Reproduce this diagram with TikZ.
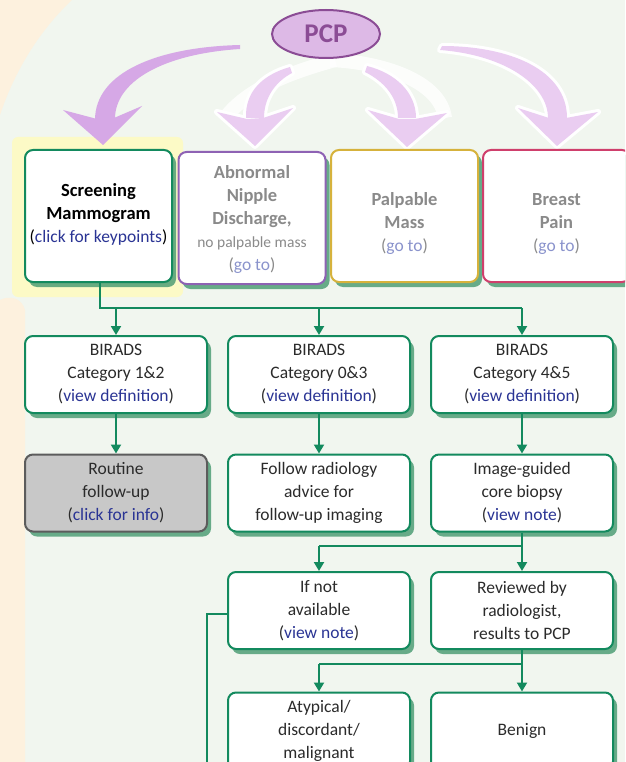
\documentclass[tikz,border=0pt]{standalone}
\usepackage{fontspec}
\setmainfont{Carlito}
\usetikzlibrary{arrows.meta,shadows,shapes.geometric}
\definecolor{bgc}{HTML}{F1F6EF}
\definecolor{peach}{HTML}{FDF1DE}
\definecolor{hilite}{HTML}{FCFAC6}
\definecolor{grn}{HTML}{138A5E}
\definecolor{shd}{HTML}{4F9E76}
\definecolor{linkc}{HTML}{2A3494}
\definecolor{golink}{HTML}{8A93CC}
\definecolor{txt}{HTML}{2B2B2B}
\definecolor{gtxt}{HTML}{8A8A8A}
\definecolor{purb}{HTML}{8E62B4}
\definecolor{yelb}{HTML}{D6B23C}
\definecolor{redb}{HTML}{CF3F6C}
\definecolor{grayf}{HTML}{C8C8C8}
\definecolor{grayb}{HTML}{5C5C5C}
\definecolor{parr}{HTML}{D6A8E6}
\definecolor{parrl}{HTML}{EACDF1}
\definecolor{pcpf}{HTML}{DDB9E6}
\definecolor{pcpb}{HTML}{8B4C95}
\newcommand\lk[1]{({\color{linkc}#1})}
\newcommand\gl[1]{({\color{golink}#1})}
\begin{document}
\begin{tikzpicture}[x=1pt,y=-1pt,
  box/.style={draw=grn, line width=2pt, rounded corners=8pt, fill=white,
    minimum width=182pt, minimum height=77pt, inner sep=1pt, align=center,
    text=txt, font=\fontsize{17.5}{23}\selectfont,
    drop shadow={shadow xshift=4pt, shadow yshift=-5pt, fill=shd, opacity=0.85}},
  topbox/.style={box, minimum width=147pt, minimum height=132pt},
  toptext/.style={align=center, inner sep=0pt, text=gtxt,
    font=\fontsize{18.5}{23}\selectfont\bfseries},
  small/.style={font=\mdseries\fontsize{17.5}{23}\selectfont},
  conn/.style={draw=grn, line width=2pt},
  arr/.style={conn, -{Triangle[width=10pt,length=9pt]}},
  halo/.style={draw=white, line width=6pt, line join=round, fill=white}
]
\useasboundingbox (0,0) rectangle (625,762);
\clip (0,0) rectangle (625,762);
% background
\fill[bgc] (0,0) rectangle (625,762);
\fill[peach] (0,0) -- (72,0) .. controls (40,30) and (15,70) .. (0,115) -- cycle;
\fill[peach] (0,300) .. controls (10,295) and (22,298) .. (25,310) -- (25,762) -- (0,762) -- cycle;
% highlight behind screening box
\fill[hilite, rounded corners=6pt] (12,137) rectangle (183,297);

% white ghost bands
\draw[white, line width=14pt, opacity=0.8] (335,60) .. controls (300,70) and (250,85) .. (225,118);
\draw[white, line width=14pt, opacity=0.8] (330,60) .. controls (380,62) and (440,80) .. (445,118);

% purple arrow 1
\fill[parr] (240,45) .. controls (158,47) and (95,72) .. (95,120)
  -- (115,120) .. controls (114,82) and (162,54) .. (240,49) -- cycle;
\fill[parr] (63,110) -- (97,119) -- (114,118) -- (142,106) -- (103,145) -- cycle;

% purple arrow 2
\path[halo] (290,67) .. controls (262,75) and (245,92) .. (246,118)
  -- (264,118) .. controls (264,98) and (275,82) .. (292,73) -- cycle;
\path[halo] (217,112) -- (247,119) -- (263,118) -- (293,108) -- (255,146) -- cycle;
% purple arrow 3
\path[halo] (367,66) .. controls (395,73) and (416,92) .. (416,118)
  -- (398,118) .. controls (398,98) and (385,82) .. (365,72) -- cycle;
\path[halo] (368,110) -- (399,119) -- (415,119) -- (447,113) -- (407,147) -- cycle;
% purple arrow 4
\path[halo] (442,46) .. controls (510,46) and (567,70) .. (567,118)
  -- (548,118) .. controls (548,85) and (505,55) .. (440,50) -- cycle;
\path[halo] (518,108) -- (549,118) -- (566,118) -- (598,112) -- (557,146) -- cycle;

\fill[parrl] (290,67) .. controls (262,75) and (245,92) .. (246,118)
  -- (264,118) .. controls (264,98) and (275,82) .. (292,73) -- cycle;
\fill[parrl] (217,112) -- (247,119) -- (263,118) -- (293,108) -- (255,146) -- cycle;
\fill[parrl] (367,66) .. controls (395,73) and (416,92) .. (416,118)
  -- (398,118) .. controls (398,98) and (385,82) .. (365,72) -- cycle;
\fill[parrl] (368,110) -- (399,119) -- (415,119) -- (447,113) -- (407,147) -- cycle;
\fill[parrl] (442,46) .. controls (510,46) and (567,70) .. (567,118)
  -- (548,118) .. controls (548,85) and (505,55) .. (440,50) -- cycle;
\fill[parrl] (518,108) -- (549,118) -- (566,118) -- (598,112) -- (557,146) -- cycle;

% PCP
\node[ellipse, draw=pcpb, line width=2pt, fill=pcpf, minimum width=108pt,
  minimum height=48pt, inner sep=0pt, text=pcpb,
  font=\fontsize{27}{30}\selectfont\bfseries] (pcp) at (326,34) {PCP};

% top row boxes
\node[topbox] (scr) at (98.5,216) {};
\node[topbox, draw=purb] (abn) at (252,218) {};
\node[topbox, draw=yelb] (pal) at (404.5,216) {};
\node[topbox, draw=redb] (bp) at (556.5,216) {};
\node[toptext, text=black] (scrt) at ([yshift=2pt]scr.center)
  {Screening\\Mammogram\\{\mdseries\fontsize{17.5}{23}\selectfont\lk{click for keypoints}}};
\node[toptext] (abnt) at ([yshift=-2pt]abn.center)
  {Abnormal\\Nipple\\Discharge,\\{\mdseries\fontsize{15.5}{23}\selectfont no palpable mass}\\{\mdseries\fontsize{17.5}{23}\selectfont\gl{go to}}};
\node[toptext] (palt) at ([yshift=-8pt]pal.center)
  {Palpable\\Mass\\{\mdseries\fontsize{17.5}{23}\selectfont\gl{go to}}};
\node[toptext] (bpt) at ([yshift=-8pt]bp.center)
  {Breast\\Pain\\{\mdseries\fontsize{17.5}{23}\selectfont\gl{go to}}};

% BIRADS row
\node[box] (b1) at (116,374.5) {BIRADS\\Category 1\&2\\\lk{view definition}};
\node[box] (b2) at (319,374.5) {BIRADS\\Category 0\&3\\\lk{view definition}};
\node[box] (b3) at (522,374.5) {BIRADS\\Category 4\&5\\\lk{view definition}};

% third row
\node[box, draw=grayb, fill=grayf] (rt) at (116,493) {Routine\\follow-up\\\lk{click for info}};
\node[box] (fr) at (319,493) {Follow radiology\\advice for\\follow-up imaging};
\node[box] (ig) at (522,493) {Image-guided\\core biopsy\\\lk{view note}};

% fourth row
\node[box] (na) at (319,610.5) {If not\\available\\\lk{view note}};
\node[box] (rv) at (522,610.5) {Reviewed by\\radiologist,\\results to PCP};

% fifth row
\node[box] (at) at (319,731) {Atypical/\\discordant/\\malignant};
\node[box] (bn) at (522,731) {Benign};

% connectors
\coordinate (j1) at (100,308);
\coordinate (j2) at (522,546);
\coordinate (j3) at (522,664);
\coordinate (j4) at (207,614);
\coordinate (j5) at (207,770);
\draw[conn] (scr.south -| j1) -- (j1) -- (b3.north |- j1);
\draw[arr] (b1.north |- j1) -- (b1.north);
\draw[arr] (b2.north |- j1) -- (b2.north);
\draw[arr] (b3.north |- j1) -- (b3.north);
\draw[arr] (b1) -- (rt);
\draw[arr] (b2) -- (fr);
\draw[arr] (b3) -- (ig);
\draw[conn] (ig.south) -- (j2) -- (na.north |- j2);
\draw[arr] (na.north |- j2) -- (na.north);
\draw[arr] (j2) -- (rv.north);
\draw[conn] (rv.south) -- (j3) -- (at.north |- j3);
\draw[arr] (at.north |- j3) -- (at.north);
\draw[arr] (j3) -- (bn.north);
\draw[conn] (na.west |- j4) -- (j4) -- (j5);
\end{tikzpicture}
\end{document}
